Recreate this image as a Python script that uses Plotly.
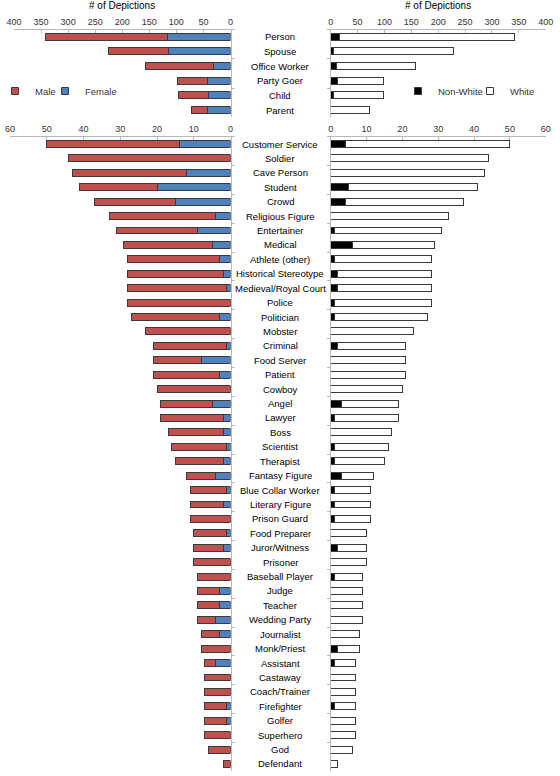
import plotly.graph_objects as go

# ---- top panel data ----
top_cats = ["Person", "Spouse", "Office Worker", "Party Goer", "Child", "Parent"]
top_male = [224, 112, 126, 55, 56, 29]
top_female = [117, 114, 31, 43, 40, 43]
top_nonwhite = [16, 6, 10, 12, 6, 0]
top_white = [326, 222, 148, 87, 92, 72]

# ---- bottom panel data ----
bot_cats = ["Customer Service", "Soldier", "Cave Person", "Student", "Crowd", "Religious Figure",
            "Entertainer", "Medical", "Athlete (other)", "Historical Stereotype", "Medieval/Royal Court",
            "Police", "Politician", "Mobster", "Criminal", "Food Server", "Patient", "Cowboy", "Angel",
            "Lawyer", "Boss", "Scientist", "Therapist", "Fantasy Figure", "Blue Collar Worker",
            "Literary Figure", "Prison Guard", "Food Preparer", "Juror/Witness", "Prisoner",
            "Baseball Player", "Judge", "Teacher", "Wedding Party", "Journalist", "Monk/Priest",
            "Assistant", "Castaway", "Coach/Trainer", "Firefighter", "Golfer", "Superhero", "God",
            "Defendant"]
bot_male = [36, 44, 31, 21, 22, 29, 22, 24, 25, 26, 27, 28, 24, 23, 20, 13, 18, 20, 14, 17, 15, 15,
            13, 8, 10, 9, 11, 9, 8, 10, 9, 6, 6, 5, 5, 8, 3, 7, 7, 6, 6, 7, 6, 2]
bot_female = [14, 0, 12, 20, 15, 4, 9, 5, 3, 2, 1, 0, 3, 0, 1, 8, 3, 0, 5, 2, 2, 1, 2, 4, 1, 2, 0,
              1, 2, 0, 0, 3, 3, 4, 3, 0, 4, 0, 0, 1, 1, 0, 0, 0]
bot_nonwhite = [4, 0, 0, 5, 4, 0, 1, 6, 1, 2, 2, 1, 1, 0, 2, 0, 0, 0, 3, 1, 0, 1, 1, 3, 1, 1, 1, 0,
                2, 0, 1, 0, 0, 0, 0, 2, 1, 0, 0, 1, 0, 0, 0, 0]
bot_total = [50, 44, 43, 41, 37, 33, 31, 29, 28, 28, 28, 28, 27, 23, 21, 21, 21, 20, 19, 19, 17, 16,
             15, 12, 11, 11, 11, 10, 10, 10, 9, 9, 9, 9, 8, 8, 7, 7, 7, 7, 7, 7, 6, 2]
bot_white = [t - n for t, n in zip(bot_total, bot_nonwhite)]

top_ticks = [0, 50, 100, 150, 200, 250, 300, 350, 400]
bot_ticks = [0, 10, 20, 30, 40, 50, 60]

RED = "#C0504D"
BLUE = "#4F81BD"
EDGE = "#3a3a3a"
FONT = "Liberation Sans, Arial, sans-serif"

fig = go.Figure()

def add_bar(x, cats, name, color, xa, ya):
    fig.add_trace(go.Bar(
        x=x, y=cats, orientation="h", name=name, xaxis=xa, yaxis=ya,
        marker=dict(color=color, line=dict(color=EDGE, width=1)),
        showlegend=False, hoverinfo="x+y+name"))

def add_key(name, color, legend):
    fig.add_trace(go.Scatter(
        x=[None], y=[None], mode="markers", name=name, legend=legend,
        marker=dict(symbol="square", size=7, color=color, line=dict(color=EDGE, width=1)),
        xaxis="x", yaxis="y", showlegend=True, hoverinfo="skip"))

# top-left
add_bar(top_female, top_cats, "Female", BLUE, "x", "y")
add_bar(top_male, top_cats, "Male", RED, "x", "y")
# top-right
add_bar(top_nonwhite, top_cats, "Non-White", "#000000", "x2", "y2")
add_bar(top_white, top_cats, "White", "#FFFFFF", "x2", "y2")
# bottom-left
add_bar(bot_female, bot_cats, "Female", BLUE, "x3", "y3")
add_bar(bot_male, bot_cats, "Male", RED, "x3", "y3")
# bottom-right
add_bar(bot_nonwhite, bot_cats, "Non-White", "#000000", "x4", "y4")
add_bar(bot_white, bot_cats, "White", "#FFFFFF", "x4", "y4")

add_key("Male", RED, "legend")
add_key("Female", BLUE, "legend2")
add_key("Non-White", "#000000", "legend3")
add_key("White", "#FFFFFF", "legend4")

W, H = 560, 776
top_dom = [1 - 117.4 / H, 1 - 29.5 / H]
bot_dom = [1 - 771.2 / H, 1 - 136.8 / H]

xcommon = dict(side="top", showgrid=False, zeroline=False, showline=True, linecolor="#b8b8b8",
               linewidth=1, ticks="inside", ticklen=3, tickcolor="#b8b8b8", automargin=False,
               tickfont=dict(family=FONT, size=9, color="#333333"), fixedrange=True)
ycommon = dict(type="category", showgrid=False, zeroline=False, showline=True, linecolor="#b8b8b8",
               linewidth=1, ticks="outside", ticklen=3, tickcolor="#b8b8b8", tickson="boundaries",
               showticklabels=False, fixedrange=True, automargin=False)

def leg(px):
    return dict(x=px / W, y=1 - 91 / H, xanchor="left", yanchor="middle", orientation="h",
                bgcolor="rgba(0,0,0,0)", font=dict(size=9.5, color="#333333"), itemwidth=30)

fig.update_layout(
    width=W, height=H, margin=dict(l=0, r=0, t=0, b=0, autoexpand=False),
    paper_bgcolor="white", plot_bgcolor="white",
    barmode="stack", bargap=0.52,
    font=dict(family=FONT, color="#000000"),
    xaxis=dict(xcommon, domain=[14 / W, 230.5 / W], range=[400, 0], anchor="y", tickvals=top_ticks),
    yaxis=dict(ycommon, domain=top_dom, anchor="x", side="right", range=[5.5, -0.5]),
    xaxis2=dict(xcommon, domain=[330.7 / W, 545.7 / W], range=[0, 400], anchor="y2", tickvals=top_ticks),
    yaxis2=dict(ycommon, domain=top_dom, anchor="x2", side="left", range=[5.5, -0.5]),
    xaxis3=dict(xcommon, domain=[10 / W, 230.5 / W], range=[60, 0], anchor="y3", tickvals=bot_ticks),
    yaxis3=dict(ycommon, domain=bot_dom, anchor="x3", side="right", range=[len(bot_cats) - 0.5, -0.5]),
    xaxis4=dict(xcommon, domain=[330.7 / W, 545.7 / W], range=[0, 60], anchor="y4", tickvals=bot_ticks),
    yaxis4=dict(ycommon, domain=bot_dom, anchor="x4", side="left", range=[len(bot_cats) - 0.5, -0.5]),
    legend=leg(-5),
    legend2=leg(45),
    legend3=leg(398),
    legend4=leg(470),
)

annotations = []
for c in top_cats:
    annotations.append(dict(x=0.5, xref="paper", y=c, yref="y", text=c, showarrow=False,
                            xanchor="center", yanchor="middle",
                            font=dict(family=FONT, size=9.5, color="#000000")))
for c in bot_cats:
    annotations.append(dict(x=0.5, xref="paper", y=c, yref="y3", text=c, showarrow=False,
                            xanchor="center", yanchor="middle",
                            font=dict(family=FONT, size=9.5, color="#000000")))
for xr in ["x domain", "x2 domain"]:
    annotations.append(dict(x=0.5, xref=xr, y=1 - 5.5 / H, yref="paper", text="# of Depictions",
                            showarrow=False, xanchor="center", yanchor="middle",
                            font=dict(family=FONT, size=10, color="#000000")))
fig.update_layout(annotations=annotations)

fig.write_html("out.html", config={"displayModeBar": False},
               post_script="document.body.style.margin='0';document.body.style.overflow='hidden';")
